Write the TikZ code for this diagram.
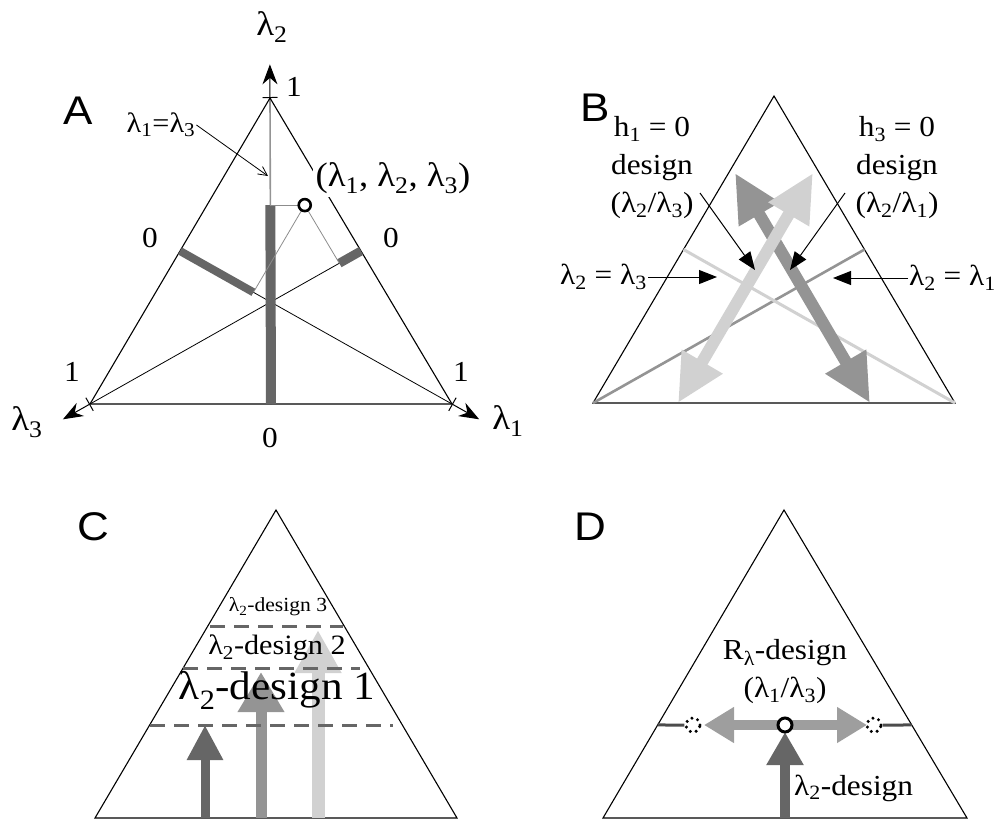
\documentclass[tikz,border=0pt]{standalone}
\usepackage{fontspec}
\setmainfont{Liberation Serif}[FakeStretch=1.08]
\newfontfamily\panelfont{Liberation Sans}[FakeStretch=1.1]
\usetikzlibrary{positioning, calc, arrows.meta}

\colorlet{darkbar}{black!60}
\colorlet{midbar}{black!42}
\colorlet{lightbar}{black!18}

\newcommand{\lsub}[1]{λ\textsubscript{#1}}

\tikzset{
  tri/.style={draw=black, line width=1.1pt},
  panel/.style={font=\panelfont\fontsize{40}{44}\selectfont, inner sep=0pt},
  lab/.style={font=\fontsize{29}{38}\selectfont, inner sep=1pt},
  axlab/.style={font=\fontsize{34}{38}\selectfont, inner sep=1pt},
  smalllab/.style={font=\fontsize{28}{30}\selectfont, inner sep=1pt},
  pointer/.style={line width=1pt, -{Triangle[length=18pt,width=14pt]}},
  axis/.style={line width=1pt, {Bar[width=15pt]}-{Stealth[length=20pt,width=15pt]}},
  dblarrow/.style={line width=12pt, {Triangle[length=48pt,width=44pt]}-{Triangle[length=48pt,width=44pt]}},
  level/.style={darkbar, line width=3pt, dash pattern=on 15pt off 9pt},
  dot/.style={circle, draw=black, line width=2.6pt, fill=white, inner sep=0pt, minimum size=12pt},
  olddot/.style={circle, draw=black, line width=3.4pt, line cap=round, dash pattern=on 0pt off 6pt, minimum size=14pt, inner sep=0pt}
}

\begin{document}
\begin{tikzpicture}[x=1pt, y=-1pt]
  \useasboundingbox (0,0) rectangle (994,823);

  % Panel A
  \coordinate (aT) at (270,98);
  \coordinate (aL) at (90,404);
  \coordinate (aR) at (452,404);
  \coordinate (aMb) at ($(aL)!0.5!(aR)$);
  \coordinate (aMl) at ($(aL)!0.5!(aT)$);
  \coordinate (aMr) at ($(aR)!0.5!(aT)$);
  \coordinate (aP) at (barycentric cs:aR=0.27,aT=0.65,aL=0.08);
  \coordinate (aB2) at ($(aMb)!0.65!(aT)$);
  \coordinate (aB1) at ($(aMl)!0.27!(aR)$);
  \coordinate (aB3) at ($(aMr)!0.08!(aL)$);
  \coordinate (aX2) at ($(aMb)!1.11!(aT)$);
  \coordinate (aX3) at ($(aMr)!1.1!(aL)$);
  \coordinate (aX1) at ($(aMl)!1.1!(aR)$);

  \draw[line width=0.8pt] (aL) -- (aMr);
  \draw[line width=0.8pt] (aR) -- (aMl);
  \draw[midbar, line width=1.6pt] (aMb) -- (aT);
  \draw[tri] (aT) -- (aL) -- (aR) -- cycle;

  % axes
  \draw[axis] (aT) -- (aX2);
  \draw[axis] (aL) -- (aX3);
  \draw[axis] (aR) -- (aX1);

  % bars
  \draw[darkbar, line width=10pt] (aMb) -- (aB2);
  \draw[darkbar, line width=8pt] (aMl) -- (aB1);
  \draw[darkbar, line width=9pt] (aMr) -- (aB3);
  \draw[black!45, line width=0.8pt] (aB1) -- (aP) -- (aB3);
  \draw[black!45, line width=0.8pt] (aP) -- (aB2);
  \node[dot] (aPt) at (aP) {};

  \node[panel] (aName) at (78,111) {A};
  \node[axlab] (aLam2) at (272,27) {\lsub{2}};
  \node[axlab] (aLam3) at (27,422) {\lsub{3}};
  \node[axlab] (aLam1) at (508,421) {\lsub{1}};
  \node[lab] (aOne2) at (294,87) {1};
  \node[lab] (aOne3) at (72,372) {1};
  \node[lab] (aOne1) at (461,372) {1};
  \node[lab] (aZero2) at (270,438) {0};
  \node[lab] (aZero1) at (150,238) {0};
  \node[lab] (aZero3) at (391,238) {0};
  \node[smalllab] (aEq) at (161,125) {\lsub{1}=\lsub{3}};
  \coordinate (aEqTip) at (268,176);
  \draw[line width=0.8pt, -{Straight Barb[length=9pt,width=9pt]}] (aEq.east) -- (aEqTip);
  \node[axlab, fill=white, inner sep=3pt] (aTriple) at (393,178) {(\lsub{1}, \lsub{2}, \lsub{3})};

  % Panel B
  \coordinate (bT) at (774,96);
  \coordinate (bL) at (593,403);
  \coordinate (bR) at (955,403);
  \coordinate (bMl) at ($(bL)!0.5!(bT)$);
  \coordinate (bMr) at ($(bR)!0.5!(bT)$);
  \coordinate (bDk1) at (735,173);
  \coordinate (bDk2) at (870,403);
  \coordinate (bLt1) at (813,173);
  \coordinate (bLt2) at (678,403);

  \draw[tri] (bT) -- (bL) -- (bR) -- cycle;
  \draw[midbar, line width=2.6pt] (bL) -- (bMr);
  \draw[lightbar, line width=3pt] (bR) -- (bMl);
  \draw[midbar, dblarrow] (bDk1) -- (bDk2);
  \draw[lightbar, dblarrow] (bLt1) -- (bLt2);

  \node[panel] (bName) at (595,108) {B};
  \node[lab, align=center] (bH1) at (652,168) {h\textsubscript{1} = 0\\design\\(\lsub{2}/\lsub{3})};
  \node[lab, align=center] (bH3) at (897,168) {h\textsubscript{3} = 0\\design\\(\lsub{2}/\lsub{1})};
  \coordinate (bH1Tip) at (755,270);
  \coordinate (bH3Tip) at (790,270);
  \draw[pointer] (700,193) -- (bH1Tip);
  \draw[pointer] (845,193) -- (bH3Tip);
  \node[lab, anchor=east] (bEq23) at (648,277) {\lsub{2} = \lsub{3}};
  \node[lab, anchor=west] (bEq21) at (908,278) {\lsub{2} = \lsub{1}};
  \coordinate (bEq23Tip) at (717,277);
  \coordinate (bEq21Tip) at (833,278);
  \draw[pointer] (bEq23.east) -- (bEq23Tip);
  \draw[pointer] (bEq21.west) -- (bEq21Tip);

  % Panel C
  \coordinate (cT) at (276,510);
  \coordinate (cL) at (95,818);
  \coordinate (cR) at (457,818);
  \draw[tri] (cT) -- (cL) -- (cR) -- cycle;

  \draw[darkbar, line width=9pt, -{Triangle[length=35pt,width=34pt]}] (205,818) -- (205,725);
  \draw[midbar, line width=11pt, -{Triangle[length=40pt,width=44pt]}] (261,818) -- (261,672);
  \draw[lightbar, line width=13pt, -{Triangle[length=43pt,width=44pt]}] (318,818) -- (318,630);

  \draw[level] (150,725) -- (393,725);
  \draw[level] (183,668) -- (360,668);
  \draw[level] (210,626) -- (343,626);

  \node[panel] (cName) at (93,527) {C};
  \node[font=\fontsize{40}{44}\selectfont, inner sep=0pt] (cDes1) at (277,690) {\lsub{2}-design 1};
  \node[font=\fontsize{28}{30}\selectfont, inner sep=0pt] (cDes2) at (277,648) {\lsub{2}-design 2};
  \node[font=\fontsize{20}{22}\selectfont, inner sep=0pt] (cDes3) at (278,607) {\lsub{2}-design 3};

  % Panel D
  \coordinate (dT) at (784,510);
  \coordinate (dL) at (603,818);
  \coordinate (dR) at (967,818);
  \coordinate (dHl) at ($(dL)!0.302!(dT)$);
  \coordinate (dHr) at ($(dR)!0.302!(dT)$);
  \draw[tri] (dT) -- (dL) -- (dR) -- cycle;

  \node[olddot] (dOldL) at (693,725) {};
  \node[olddot] (dOldR) at (874,725) {};
  \draw[black!70, line width=3pt] (dHl) -- (dOldL.west);
  \draw[black!70, line width=3pt] (dOldR.east) -- (dHr);

  \draw[black!38, line width=10pt, {Triangle[length=30pt,width=34pt]}-{Triangle[length=30pt,width=34pt]}] (704,725) -- (867,725);
  \draw[darkbar, line width=10pt, -{Triangle[length=33pt,width=35pt]}] (785,818) -- (785,732);
  \node[dot, minimum size=14pt, line width=3pt] (dPt) at (785,725) {};

  \node[panel] (dName) at (590,527) {D};
  \node[lab, align=center] (dRdes) at (785,672) {R\textsubscript{λ}-design\\(\lsub{1}/\lsub{3})};
  \node[lab, anchor=west] (dDes) at (793,788) {\lsub{2}-design};
\end{tikzpicture}
\end{document}
